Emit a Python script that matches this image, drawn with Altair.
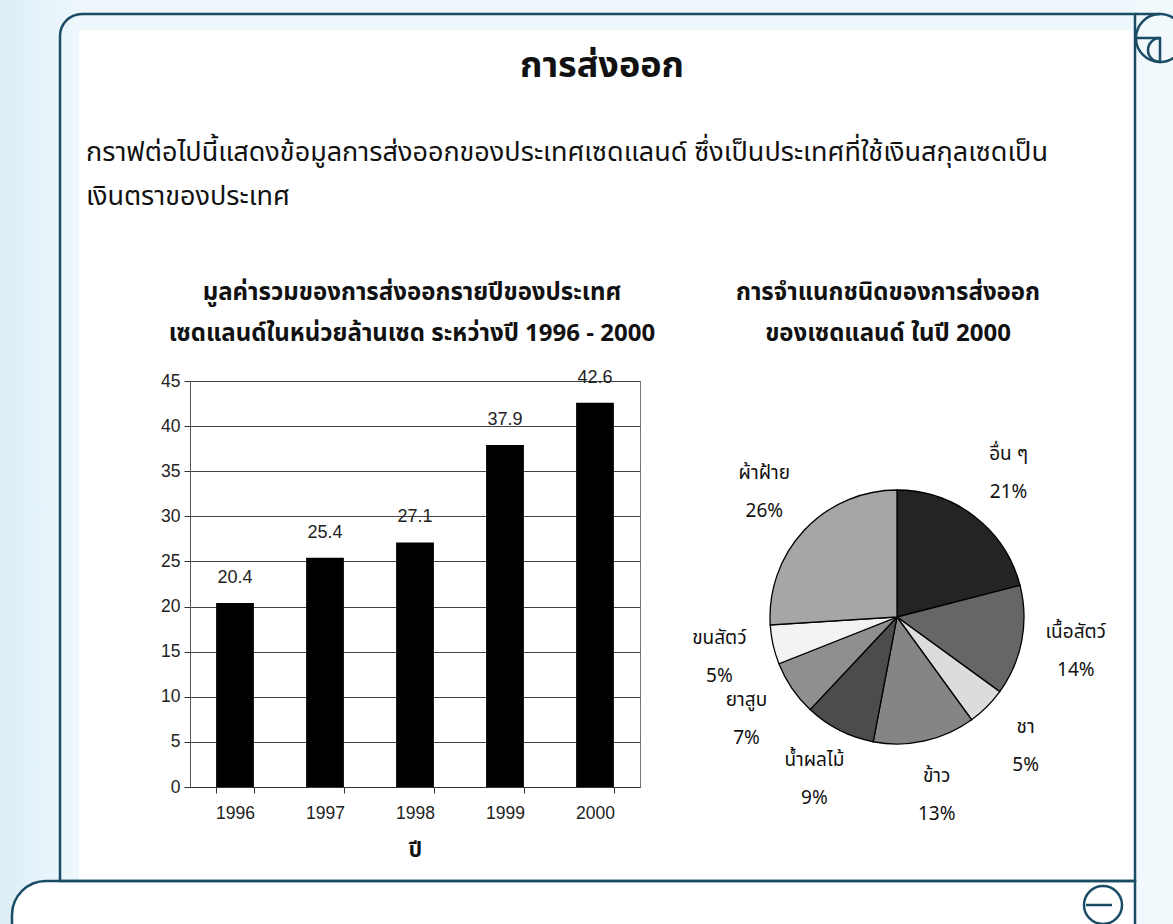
import altair as alt
import pandas as pd

# ---------------- data ----------------
years = ["1996", "1997", "1998", "1999", "2000"]
values = [20.4, 25.4, 27.1, 37.9, 42.6]

pie_names = ["อื่น ๆ", "เนื้อสัตว์", "ชา", "ข้าว", "น้ำผลไม้", "ยาสูบ", "ขนสัตว์", "ผ้าฝ้าย"]
pie_pcts = [21, 14, 5, 13, 9, 7, 5, 26]

main_title = "การส่งออก"
para_lines = [
    "กราฟต่อไปนี้แสดงข้อมูลการส่งออกของประเทศเซดแลนด์  ซึ่งเป็นประเทศที่ใช้เงินสกุลเซดเป็น",
    "เงินตราของประเทศ",
]
bar_title = ["มูลค่ารวมของการส่งออกรายปีของประเทศ", "เซดแลนด์ในหน่วยล้านเซด ระหว่างปี 1996 - 2000"]
pie_title = ["การจำแนกชนิดของการส่งออก", "ของเซดแลนด์ ในปี 2000"]
x_title = "ปี"

# ---------------- styling ----------------
FONT = "Liberation Sans, Arial, sans-serif"
TFONT = "Tahoma, Noto Sans Thai, Loma, Garuda, sans-serif"
FRAME = "#1b4c66"
pie_greys = ["#242424", "#666666", "#dcdcdc", "#858585", "#4c4c4c", "#8f8f8f", "#f3f3f3", "#a6a6a6"]

# plot-area origin on the page
OX, OY = 190, 381
W, H = 450, 406
PAGE_W, PAGE_H = 1173, 924


def px(v):
    return v - OX


def py(v):
    return v - OY


one = pd.DataFrame({"a": [0]})

# ---------------- page decoration ----------------
def rect(x1, x2, y1, y2, **kw):
    return alt.Chart(one).mark_rect(**kw).encode(
        x=alt.value(px(x1)), x2=alt.value(px(x2)), y=alt.value(py(y1)), y2=alt.value(py(y2))
    )


grad_left = alt.LinearGradient(
    gradient="linear", x1=0, x2=1, y1=0, y2=0,
    stops=[alt.GradientStop(color="#dcedf7", offset=0), alt.GradientStop(color="#eef8fc", offset=1)],
)
bg_left = rect(0, 79, 0, PAGE_H, fill=grad_left)
bg_top = rect(79, PAGE_W, 0, 30, fill="#eef8fc")
bg_right = rect(1135, PAGE_W, 0, PAGE_H, fill="#f1f9fd")

frame_main = rect(60, 1135, 14, 881, fillOpacity=0, stroke=FRAME, strokeWidth=2.5, cornerRadiusTopLeft=22)
frame_topext = rect(1135, 1160, 14, 14, fillOpacity=0, stroke=FRAME, strokeWidth=2.5)
scroll_bottom = rect(12, 1135, 881, 990, fill="white", stroke=FRAME, strokeWidth=2.5,
                     cornerRadiusTopLeft=34, cornerRadiusBottomRight=30)


def circle(cx, cy, r):
    return alt.Chart(one).mark_arc(
        radius=r, theta=0, theta2=6.2832, fillOpacity=0, stroke=FRAME, strokeWidth=2.5
    ).encode(x=alt.value(px(cx)), y=alt.value(py(cy)))


curl_top = circle(1160, 38, 24)
curl_top_in = alt.Chart(one).mark_arc(
    radius=12, theta=3.1416, theta2=6.2832, fillOpacity=0, stroke=FRAME, strokeWidth=2.5
).encode(x=alt.value(px(1160)), y=alt.value(py(50)))
curl_top_line = rect(1135, 1160, 38, 38, fillOpacity=0, stroke=FRAME, strokeWidth=2.5)
curl_bot = circle(1103, 905, 19)
curl_bot_line = rect(1086, 1112, 905, 905, fillOpacity=0, stroke=FRAME, strokeWidth=2.5)

# ---------------- texts ----------------
def text(s, x, y, size, weight="normal", font=TFONT, align="center"):
    return alt.Chart(pd.DataFrame({"t": [s]})).mark_text(
        font=font, fontSize=size, fontWeight=weight, align=align, baseline="middle", color="#111"
    ).encode(text="t:N", x=alt.value(px(x)), y=alt.value(py(y)))


t_main = text(main_title, 602, 66, 36, "bold")
t_p1 = text(para_lines[0], 86, 153, 27, align="left")
t_p2 = text(para_lines[1], 86, 197, 27, align="left")
t_b1 = text(bar_title[0], 412, 293, 24, "bold")
t_b2 = text(bar_title[1], 412, 334, 24, "bold")
t_c1 = text(pie_title[0], 888, 293, 24, "bold")
t_c2 = text(pie_title[1], 888, 334, 24, "bold")

# ---------------- bar chart ----------------
bar_df = pd.DataFrame({"year": years, "value": values})
xenc = alt.X(
    "year:N",
    scale=alt.Scale(paddingInner=0.58, paddingOuter=0.29),
    axis=alt.Axis(
        title=x_title, titleFont=TFONT, titleFontSize=21, titleFontWeight="bold", titlePadding=18,
        titleColor="#111", labelAngle=0, labelFont=FONT, labelFontSize=17.5, labelColor="#222",
        labelPadding=11, tickBand="extent", tickSize=6, tickColor="#333", domainColor="#333",
        grid=False,
    ),
)
yenc = alt.Y(
    "value:Q",
    scale=alt.Scale(domain=[0, 45]),
    axis=alt.Axis(
        title=None, values=[0, 5, 10, 15, 20, 25, 30, 35, 40, 45], labelFont=FONT, labelFontSize=17.5,
        labelColor="#222", labelPadding=4, tickSize=6, tickColor="#333", domainColor="#555",
        gridColor="#444", gridWidth=1,
    ),
)
bars = alt.Chart(bar_df).mark_bar(color="black").encode(x=xenc, y=yenc)
bar_labels = alt.Chart(bar_df).mark_text(
    font=FONT, fontSize=18, color="#222", baseline="middle", dy=-25
).encode(x=alt.X("year:N"), y=alt.Y("value:Q"), text=alt.Text("value:Q", format=".1f"))

# ---------------- pie chart ----------------
pie_df = pd.DataFrame({
    "name": pie_names,
    "pct": pie_pcts,
    "idx": list(range(len(pie_names))),
})
pie_df["label"] = pie_df["name"] + "\n" + pie_df["pct"].astype(str) + "%"
CX, CY = 897, 617
pie_base = alt.Chart(pie_df).encode(
    theta=alt.Theta("pct:Q", stack=True),
    order=alt.Order("idx:Q"),
)
arcs = pie_base.mark_arc(radius=127, stroke="black", strokeWidth=1.3).encode(
    color=alt.Color("name:N", scale=alt.Scale(domain=pie_names, range=pie_greys), legend=None),
    x=alt.value(px(CX)), y=alt.value(py(CY)),
)
arc_labels = pie_base.mark_text(
    radius=182, font=TFONT, fontSize=19, color="#111", lineBreak="\n", lineHeight=38,
    baseline="middle", dy=-19
).encode(text="label:N", x=alt.value(px(CX)), y=alt.value(py(CY)))
pie = alt.layer(arcs, arc_labels)

chart = alt.layer(
    bg_left, bg_top, bg_right,
    scroll_bottom, frame_main, frame_topext, curl_top, curl_top_in, curl_top_line,
    curl_bot, curl_bot_line,
    t_main, t_p1, t_p2, t_b1, t_b2, t_c1, t_c2,
    bars, bar_labels,
    pie,
).resolve_scale(theta="independent", color="independent").properties(
    width=W, height=H,
    autosize=alt.AutoSizeParams(type="none"),
    padding={"left": OX, "top": OY, "right": PAGE_W - OX - W, "bottom": PAGE_H - OY - H},
    background="white",
).configure_view(stroke="#777", strokeWidth=1)

chart.save("out.html", embed_options={"renderer": "svg", "actions": False})
